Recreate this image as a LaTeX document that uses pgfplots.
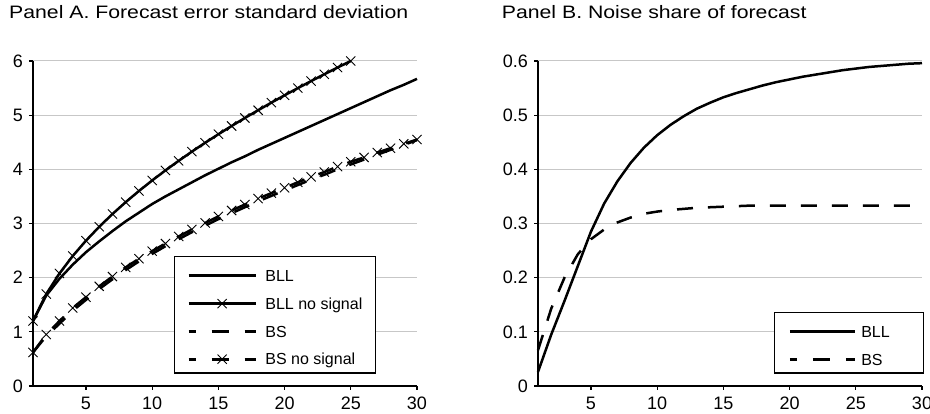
\documentclass[border=0pt]{standalone}
\usepackage{fontspec}
\setmainfont{Liberation Sans}
\newfontfamily\titlefont[FakeStretch=1.18]{Liberation Sans}
\usepackage{pgfplots}
\pgfplotsset{compat=1.18}
\newcommand{\legline}[2]{\draw[black, line width=2.7pt, #2] (0pt,5.8pt) -- (#1,5.8pt);}
\newcommand{\legmark}[1]{\path[black, line width=0.9pt] plot[mark=x, mark size=6.5pt] coordinates {(#1,5.8pt)};}
\pgfplotsset{
  panel/.style={
    scale only axis, width=384pt, height=325pt,
    xmin=1, xmax=30, ymin=0,
    xtick={5,10,...,30},
    axis x line*=bottom, axis y line*=left,
    axis line style={-, line width=1.2pt, black},
    tick align=outside, major tick length=4pt,
    tick style={black, line width=1.2pt},
    ymajorgrids, grid style={line width=1pt, black!22},
    clip=false,
    /pgf/number format/assume math mode=true,
    ticklabel style={font=\fontsize{18}{21}\selectfont},
    yticklabel style={anchor=east, inner sep=0pt, xshift=-6pt},
    xticklabel style={anchor=north, inner sep=0pt, yshift=-7pt},
    title style={anchor=base west, inner sep=0pt, font=\titlefont\fontsize{18}{21}\selectfont},
    legend cell align=left,
    legend style={draw=black, line width=1.2pt, inner xsep=13pt, inner ysep=8pt,
      font=\fontsize{16}{19}\selectfont, row sep=10.8pt, column sep=8.4pt,
      nodes={inner sep=0pt, text height=17pt, text depth=0pt, anchor=base west}},
  },
  bline/.style={black, line width=2.5pt},
  dashln/.style={dash pattern=on 16pt off 15pt},
  xm/.style={mark=x, mark size=6.5pt, mark options={solid, line width=0.9pt}},
}
\begin{document}
\begin{tikzpicture}
\useasboundingbox (0,0) rectangle (930pt,414pt);
\begin{axis}[panel,
  at={(33pt,28pt)}, anchor=south west,
  ymax=6, ytick={0,1,...,6},
  title={Panel A. Forecast error standard deviation},
  title style={at={(axis description cs:0,1)}, xshift=-24pt, yshift=36.7pt},
  legend style={at={(axis description cs:0.3664,0.4)}, anchor=north west},
]
\addplot[bline, legend image code/.code={\legline{67pt}{}}] coordinates {
(1,1.20) (2,1.67) (3,1.98) (4,2.24) (5,2.47) (6,2.67) (7,2.86) (8,3.04) (9,3.20) (10,3.36)
(11,3.50) (12,3.63) (13,3.76) (14,3.89) (15,4.01) (16,4.13) (17,4.24) (18,4.36) (19,4.47) (20,4.58)
(21,4.69) (22,4.80) (23,4.91) (24,5.02) (25,5.13) (26,5.24) (27,5.35) (28,5.46) (29,5.56) (30,5.67)
};
\addlegendentry{BLL}
\addplot[bline, xm, legend image code/.code={\legline{67pt}{}\legmark{33.5pt}}] coordinates {
(1,1.200) (2,1.697) (3,2.078) (4,2.400) (5,2.683) (6,2.939) (7,3.175) (8,3.394) (9,3.600) (10,3.795)
(11,3.980) (12,4.157) (13,4.327) (14,4.490) (15,4.648) (16,4.800) (17,4.948) (18,5.091) (19,5.231) (20,5.367)
(21,5.499) (22,5.629) (23,5.755) (24,5.879) (25,6.000)
};
\addlegendentry{BLL no signal}
\addplot[bline, dashln, legend image code/.code={\legline{67pt}{dash pattern=on 17pt off 16pt, dash phase=10pt}}] coordinates {
(1,0.62) (2,0.92) (3,1.15) (4,1.39) (5,1.59) (6,1.79) (7,1.97) (8,2.14) (9,2.30) (10,2.44)
(11,2.58) (12,2.71) (13,2.84) (14,2.96) (15,3.08) (16,3.19) (17,3.30) (18,3.41) (19,3.51) (20,3.61)
(21,3.71) (22,3.81) (23,3.90) (24,4.00) (25,4.09) (26,4.18) (27,4.27) (28,4.36) (29,4.45) (30,4.54)
};
\addlegendentry{BS}
\addplot[bline, dashln, xm, legend image code/.code={\legline{67pt}{dash pattern=on 17pt off 16pt, dash phase=10pt}\legmark{33.5pt}}] coordinates {
(1,0.62) (2,0.95) (3,1.20) (4,1.44) (5,1.64) (6,1.84) (7,2.02) (8,2.19) (9,2.35) (10,2.49)
(11,2.63) (12,2.76) (13,2.89) (14,3.01) (15,3.13) (16,3.24) (17,3.35) (18,3.46) (19,3.56) (20,3.66)
(21,3.76) (22,3.86) (23,3.95) (24,4.05) (25,4.14) (26,4.22) (27,4.31) (28,4.39) (29,4.47) (30,4.55)
};
\addlegendentry{BS no signal}
\end{axis}
\begin{axis}[panel,
  at={(538pt,28pt)}, anchor=south west,
  ymax=0.6, ytick={0,0.1,...,0.6},
  yticklabel style={/pgf/number format/fixed, /pgf/number format/precision=1},
  title={Panel B. Noise share of forecast},
  title style={at={(axis description cs:0,1)}, xshift=-36.3pt, yshift=36.7pt},
  legend style={at={(axis description cs:0.6146,0.2286)}, anchor=north west,
    column sep=5pt, inner xsep=14pt,
    nodes={text width=48pt, align=left}},
]
\addplot[bline, legend image code/.code={\legline{65pt}{}}] coordinates {
(1,0.026) (2,0.095) (3,0.157) (4,0.221) (5,0.285) (6,0.337) (7,0.378) (8,0.412) (9,0.440) (10,0.463)
(11,0.482) (12,0.498) (13,0.512) (14,0.523) (15,0.533) (16,0.541) (17,0.548) (18,0.555) (19,0.561) (20,0.566)
(21,0.571) (22,0.575) (23,0.579) (24,0.583) (25,0.586) (26,0.589) (27,0.591) (28,0.593) (29,0.595) (30,0.596)
};
\addlegendentry{BLL}
\addplot[bline, dashln, legend image code/.code={\legline{65pt}{dash pattern=on 17pt off 16pt, dash phase=10pt}}] coordinates {
(1,0.066) (2,0.143) (3,0.200) (4,0.243) (5,0.271) (6,0.289) (7,0.302) (8,0.311) (9,0.318) (10,0.322)
(11,0.325) (12,0.327) (13,0.329) (14,0.330) (15,0.331) (16,0.332) (17,0.333) (18,0.333) (19,0.333) (20,0.333)
(21,0.333) (22,0.333) (23,0.333) (24,0.333) (25,0.333) (26,0.333) (27,0.333) (28,0.333) (29,0.333) (30,0.333)
};
\addlegendentry{BS}
\end{axis}
\end{tikzpicture}
\end{document}
